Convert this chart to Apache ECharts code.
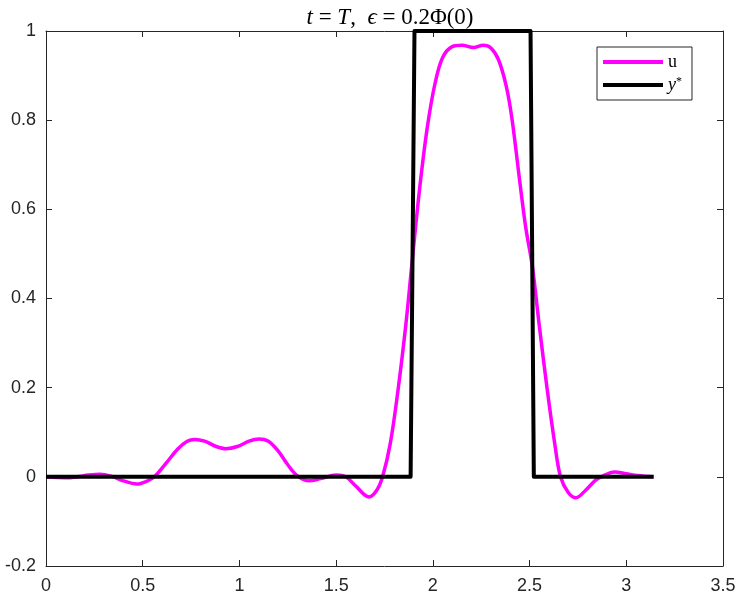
<!DOCTYPE html>
<html>
<head>
<meta charset="utf-8">
<script src="https://cdn.jsdelivr.net/npm/echarts@6/dist/echarts.min.js"></script>
<style>
  html, body { margin: 0; padding: 0; background: #fff; }
  #main { width: 740px; height: 598px; }
</style>
</head>
<body>
<div id="main"></div>
<script>
// u at t = T
var uX = [0.00, 0.10, 0.16, 0.22, 0.28, 0.34, 0.40, 0.47, 0.52, 0.56,
          0.62, 0.68, 0.73, 0.77, 0.82, 0.88, 0.93, 0.99, 1.05, 1.10,
          1.15, 1.20, 1.25, 1.30, 1.36, 1.42, 1.50, 1.55, 1.60, 1.67,
          1.71, 1.74, 1.78, 1.82, 1.86, 1.89, 1.93, 1.97, 2.01, 2.05,
          2.10, 2.15, 2.21, 2.26, 2.30, 2.34, 2.38, 2.41, 2.45, 2.48,
          2.515, 2.55, 2.59, 2.63, 2.66, 2.70, 2.74, 2.79, 2.84, 2.87,
          2.94, 3.00, 3.06, 3.14];
var uY = [0.000, -0.002, 0.000, 0.004, 0.006, 0.001, -0.009, -0.016, -0.010, 0.000,
          0.030, 0.062, 0.080, 0.084, 0.080, 0.068, 0.063, 0.068, 0.080, 0.085,
          0.080, 0.058, 0.027, 0.002, -0.009, -0.004, 0.004, 0.000, -0.020, -0.045,
          -0.030, 0.000, 0.075, 0.195, 0.340, 0.470, 0.640, 0.780, 0.880, 0.940,
          0.965, 0.968, 0.963, 0.968, 0.962, 0.935, 0.875, 0.800, 0.660, 0.560,
          0.470, 0.340, 0.200, 0.075, 0.000, -0.035, -0.047, -0.030, -0.008, 0.000,
          0.011, 0.007, 0.003, 0.000];

// target y*
var yStarX = [0, 1.885, 1.905, 2.505, 2.522, 3.1416];
var yStarY = [0, 0, 1, 1, 0, 0];

var xTicks = { min: 0, max: 3.5, interval: 0.5 };
var yTicks = { min: -0.2, max: 1, interval: 0.2 };

function zip(xs, ys) {
    var out = [];
    for (var i = 0; i < xs.length; i++) {
        out.push([xs[i], ys[i]]);
    }
    return out;
}

var axisColor = '#262626';
var labelFont = 'Liberation Sans';
var serif = 'Liberation Serif';

function fmt(v) {
    return String(+v.toFixed(1));
}

function frameAxis(pos, ticks) {
    return {
        type: 'value',
        position: pos,
        min: ticks.min,
        max: ticks.max,
        interval: ticks.interval,
        axisLine: { show: true, onZero: false, lineStyle: { color: axisColor, width: 1 } },
        axisTick: { show: true, inside: true, length: 6, lineStyle: { color: axisColor } },
        axisLabel: { show: false },
        splitLine: { show: false }
    };
}

var chart = echarts.init(document.getElementById('main'), null, { renderer: 'canvas' });
var option = {
    animation: false,
    backgroundColor: '#fff',
    title: {
        left: 385,
        top: 1,
        textAlign: 'center',
        text: '{i|t} = {i|T},  {i|ϵ} = 0.2Φ(0)',
        textStyle: {
            fontFamily: serif,
            fontSize: 23,
            fontWeight: 'normal',
            color: '#000',
            rich: {
                i: { fontFamily: serif, fontSize: 23, fontStyle: 'italic', color: '#000' }
            }
        }
    },
    legend: {
        orient: 'vertical',
        left: 597,
        top: 47,
        padding: [6, 10, 6, 6],
        icon: 'rect',
        itemWidth: 60,
        itemHeight: 4,
        itemGap: 5,
        backgroundColor: '#fff',
        borderColor: axisColor,
        borderWidth: 1,
        borderRadius: 0,
        data: ['u', 'y*'],
        formatter: function (name) {
            return name === 'u' ? '{r|u}' : '{i|y}{s|*}';
        },
        textStyle: {
            color: '#000',
            fontFamily: serif,
            fontSize: 18,
            lineHeight: 18,
            rich: {
                r: { fontFamily: serif, fontSize: 18, color: '#000', lineHeight: 18 },
                i: { fontFamily: serif, fontSize: 18, fontStyle: 'italic', color: '#000', lineHeight: 18 },
                s: { fontFamily: serif, fontSize: 12, color: '#000', verticalAlign: 'top', lineHeight: 18 }
            }
        }
    },
    grid: {
        left: 46,
        right: 17,
        top: 31,
        bottom: 32,
        containLabel: false
    },
    xAxis: [{
        type: 'value',
        min: xTicks.min,
        max: xTicks.max,
        interval: xTicks.interval,
        axisLine: { show: true, onZero: false, lineStyle: { color: axisColor, width: 1 } },
        axisTick: { show: true, inside: true, length: 6, lineStyle: { color: axisColor } },
        axisLabel: { color: axisColor, fontFamily: labelFont, fontSize: 18, margin: 11, formatter: fmt },
        splitLine: { show: false }
    }, frameAxis('top', xTicks)],
    yAxis: [{
        type: 'value',
        min: yTicks.min,
        max: yTicks.max,
        interval: yTicks.interval,
        axisLine: { show: true, onZero: false, lineStyle: { color: axisColor, width: 1 } },
        axisTick: { show: true, inside: true, length: 6, lineStyle: { color: axisColor } },
        axisLabel: { color: axisColor, fontFamily: labelFont, fontSize: 18, margin: 10, formatter: fmt },
        splitLine: { show: false }
    }, frameAxis('right', yTicks)],
    series: [
        {
            name: 'u',
            type: 'line',
            smooth: 0.35,
            symbol: 'none',
            data: zip(uX, uY),
            lineStyle: { color: '#ff00ff', width: 3.5 },
            itemStyle: { color: '#ff00ff' },
            z: 2
        },
        {
            name: 'y*',
            type: 'line',
            symbol: 'none',
            data: zip(yStarX, yStarY),
            lineStyle: { color: '#000', width: 4, join: 'round' },
            itemStyle: { color: '#000' },
            z: 3
        }
    ]
};

chart.setOption(option);
window.onresize = chart.resize;
</script>
</body>
</html>
